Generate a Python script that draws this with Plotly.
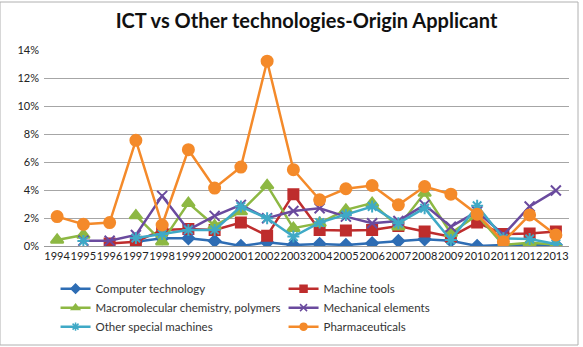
import plotly.graph_objects as go

years = [str(y) for y in range(1994, 2014)]

computer_technology = [None, None, None, 0.30, 0.55, 0.55, 0.36, 0.00, 0.26, 0.07,
                       0.14, 0.07, 0.19, 0.36, 0.48, 0.38, 0.00, 0.07, 0.10, 0.08]
machine_tools = [None, None, 0.17, 0.30, 1.15, 1.22, 1.15, 1.67, 0.74, 3.70,
                 1.15, 1.10, 1.15, 1.43, 1.03, 0.67, 1.67, 0.85, 0.90, 1.03]
macromolecular = [0.43, 0.79, None, 2.17, 0.31, 3.06, 1.45, 2.46, 4.33, 1.27,
                  1.63, 2.58, 3.06, 1.38, 3.78, 0.91, 2.22, 0.07, 0.24, 0.10]
mechanical_elements = [None, 0.38, 0.38, 0.79, 3.58, 1.15, 2.15, 2.94, 1.98, 2.50,
                       2.70, 2.10, 1.63, 1.79, 2.94, 1.38, 2.46, 0.80, 2.82, 3.96]
other_special = [None, 0.35, None, 0.57, 0.86, 1.15, 1.15, 2.82, 1.98, 0.67,
                 1.67, 2.22, 2.82, 1.63, 2.70, 0.43, 2.87, 0.55, 0.50, 0.14]
pharmaceuticals = [2.10, 1.55, 1.67, 7.55, 1.50, 6.88, 4.14, 5.64, 13.20, 5.45,
                   3.30, 4.09, 4.32, 2.94, 4.25, 3.70, 2.27, 0.31, 2.22, 0.79]

series = [
    ("Computer technology", computer_technology, "#2E6DB4", "diamond", 9),
    ("Machine tools", machine_tools, "#BE2D2D", "square", 10),
    ("Macromolecular chemistry, polymers", macromolecular, "#8DB843", "triangle-up", 11),
    ("Mechanical elements", mechanical_elements, "#6A4A9E", "x-thin-open", 10),
    ("Other special machines", other_special, "#3FA9C6", "asterisk-open", 10),
    ("Pharmaceuticals", pharmaceuticals, "#F48A2A", "circle", 11),
]

fig = go.Figure()
for name, vals, color, sym, size in series:
    fig.add_trace(go.Scatter(
        x=years, y=[None if v is None else v / 100 for v in vals], name=name,
        mode="lines+markers", connectgaps=False, showlegend=False,
        line=dict(color=color, width=2.5),
        marker=dict(symbol=sym, size=size, color=color,
                    line=dict(color=color, width=2)),
    ))
# legend entries with smaller symbols, like the reference legend
for name, vals, color, sym, size in series:
    fig.add_trace(go.Scatter(
        x=[None], y=[None], name=name, mode="lines+markers",
        line=dict(color=color, width=2.5),
        marker=dict(symbol=sym, size=7, color=color,
                    line=dict(color=color, width=1.5)),
    ))

fig.update_layout(
    width=583, height=347,
    margin=dict(l=44, r=14, t=50, b=101),
    paper_bgcolor="white", plot_bgcolor="white",
    font=dict(family="Lato, Open Sans, sans-serif", size=11, color="#222222"),
    title=dict(text="<b>ICT vs Other technologies-Origin Applicant</b>",
               x=0.5, xref="paper", xanchor="center", y=0.94, yanchor="middle",
               font=dict(size=20, color="#111111")),
    xaxis=dict(type="category", range=[-0.5, 19.5], showgrid=False,
               showline=True, linecolor="#9a9a9a", linewidth=1,
               ticks="", tickangle=0, tickfont=dict(size=11), fixedrange=True,
               automargin=False),
    yaxis=dict(range=[0, 0.14], dtick=0.02, tickformat=".0%",
               showgrid=True, gridcolor="#a6a6a6", gridwidth=1,
               zeroline=False, ticks="", tickfont=dict(size=11),
               ticklabelstandoff=4, automargin=False),
    legend=dict(orientation="h", x=0.022, xref="paper",
                y=0.21, yref="container", xanchor="left", yanchor="top",
                entrywidth=183, tracegroupgap=0,
                font=dict(family="Lato, sans-serif", size=11.5, color="#333333"),
                itemwidth=30),
    showlegend=True,
)

fig.add_shape(type="rect", xref="paper", yref="paper",
              x0=-44/525, x1=(578-44)/525, y0=-99/196, y1=1+48/196,
              line=dict(color="#b0b0b0", width=1), fillcolor="rgba(0,0,0,0)")

fig.write_html("out.html")
